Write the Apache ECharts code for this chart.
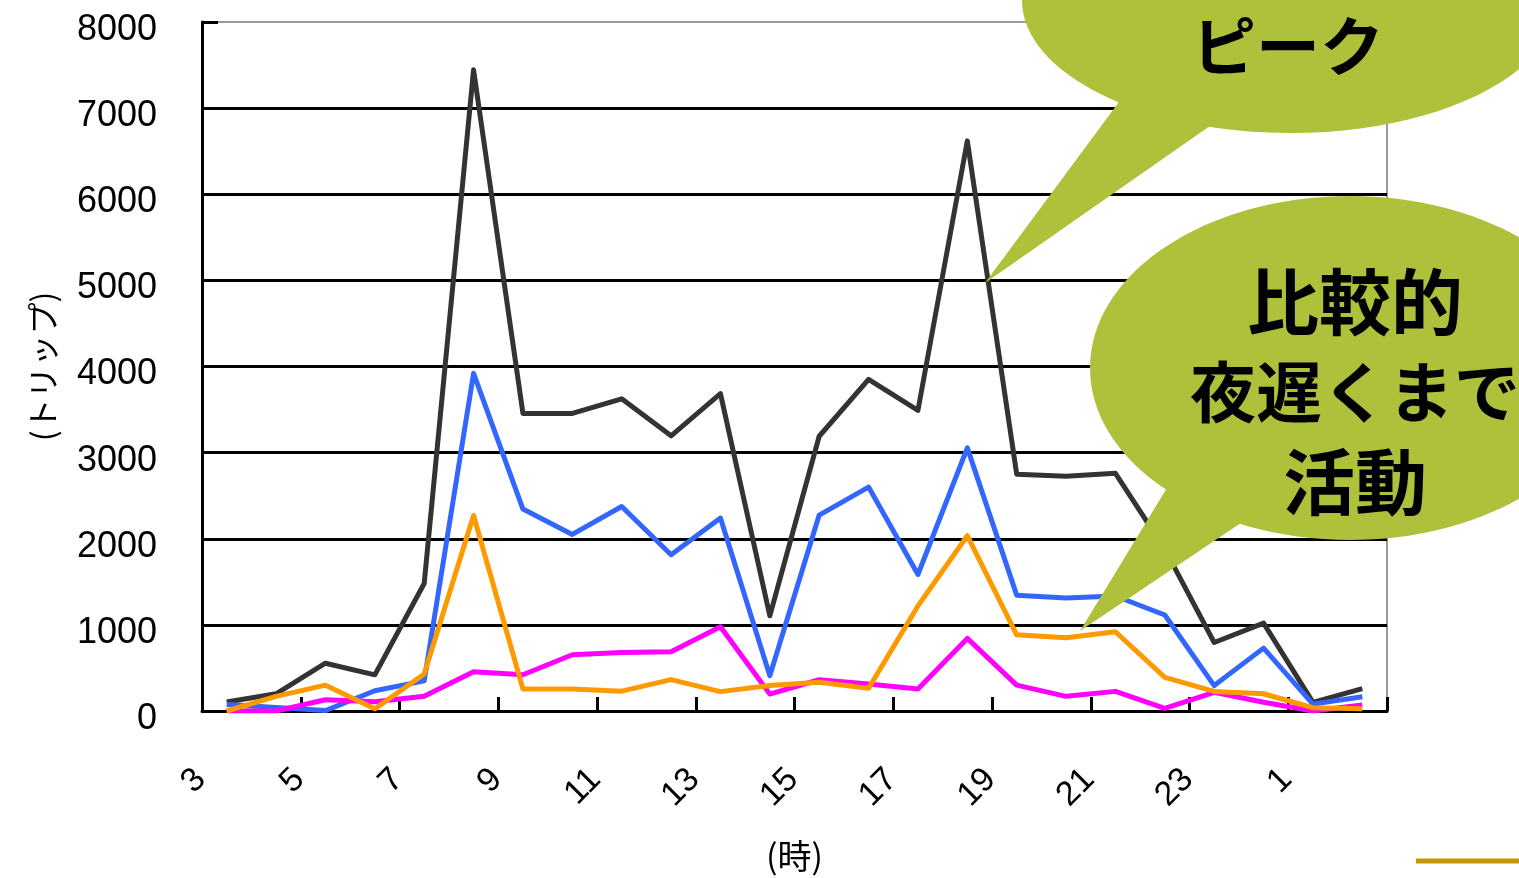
<!DOCTYPE html>
<html>
<head>
<meta charset="utf-8">
<script src="https://cdn.jsdelivr.net/npm/echarts@6/dist/echarts.min.js"></script>
<style>
  html, body { margin: 0; padding: 0; background: #fff; }
  #chart { width: 1519px; height: 878px; }
</style>
</head>
<body>
<div id="chart"></div>
<script>
// 時間帯 (3時〜翌2時)
var hours = ['3','4','5','6','7','8','9','10','11','12','13','14','15','16','17','18','19','20','21','22','23','24','1','2'];
var yTicks = [0, 1000, 2000, 3000, 4000, 5000, 6000, 7000, 8000];

// トリップ数
var tripsBlack = [105, 200, 555, 420, 1480, 7445, 3455, 3455, 3625, 3195, 3685, 1105, 3190, 3850, 3490, 6620, 2750, 2725, 2760, 1880, 795, 1020, 100, 260];
var tripsBlue = [75, 40, 5, 235, 350, 3920, 2345, 2050, 2375, 1815, 2240, 410, 2275, 2600, 1585, 3055, 1345, 1312, 1335, 1115, 295, 730, 80, 165];
var tripsMagenta = [0, 0, 130, 108, 170, 456, 421, 653, 680, 688, 978, 197, 363, 313, 255, 843, 301, 170, 228, 31, 217, 101, 0, 70];
var tripsOrange = [0, 170, 300, 25, 430, 2270, 255, 255, 230, 365, 225, 295, 335, 265, 1220, 2035, 885, 850, 920, 390, 227, 200, 38, 25];

var bubbleColor = '#AFC03B';
var jpFont = '"Noto Sans CJK JP", sans-serif';
var numFont = '"Liberation Sans", Arial, sans-serif';

function lineSeries(name, data, color) {
    return {
        name: name,
        type: 'line',
        data: data,
        symbol: 'none',
        lineStyle: { color: color, width: 5, join: 'round' },
        itemStyle: { color: color },
        animation: false
    };
}

var chart = echarts.init(document.getElementById('chart'));

var option = {
    backgroundColor: '#fff',
    animation: false,
    grid: {
        left: 202, top: 22, right: 132, bottom: 166,
        show: true, borderColor: '#999', borderWidth: 2, backgroundColor: 'transparent'
    },
    xAxis: {
        type: 'category',
        data: hours,
        boundaryGap: true,
        name: '(時)',
        nameLocation: 'middle',
        nameGap: 128,
        nameTextStyle: { fontFamily: jpFont, fontSize: 34, color: '#000' },
        axisLine: { lineStyle: { color: '#000', width: 3 } },
        axisTick: { show: true, inside: true, length: 14, lineStyle: { color: '#000', width: 3 } },
        axisLabel: {
            interval: 1,
            rotate: 45,
            margin: 37,
            padding: [0, 37, 0, 0],
            fontFamily: numFont,
            fontSize: 34,
            color: '#000'
        },
        splitLine: { show: false }
    },
    yAxis: {
        type: 'value',
        min: yTicks[0],
        max: yTicks[yTicks.length - 1],
        interval: 1000,
        name: '(トリップ)',
        nameLocation: 'middle',
        nameRotate: 90,
        nameGap: 143,
        nameTextStyle: { fontFamily: jpFont, fontSize: 32, color: '#000' },
        axisLine: { show: true, lineStyle: { color: '#000', width: 3 } },
        axisTick: { show: true, inside: true, length: 16, lineStyle: { color: '#000', width: 3 } },
        axisLabel: {
            margin: 45,
            formatter: function (v) { return '{n|' + v + '}'; },
            rich: {
                n: { fontFamily: numFont, fontSize: 36, color: '#000', padding: [16, 0, 0, 0] }
            }
        },
        splitLine: { show: true, showMaxLine: false, lineStyle: { color: '#000', width: 3 } }
    },
    series: [
        lineSeries('black', tripsBlack, '#333333'),
        lineSeries('blue', tripsBlue, '#3366FF'),
        lineSeries('magenta', tripsMagenta, '#FF00FF'),
        lineSeries('orange', tripsOrange, '#FF9900')
    ],
    graphic: [
        // 吹き出し「ピーク」
        { type: 'ellipse', z: 100, shape: { cx: 1290, cy: 0, rx: 268, ry: 133 }, style: { fill: bubbleColor } },
        { type: 'polygon', z: 100, shape: { points: [[1130, 87], [985, 283], [1240, 105]] }, style: { fill: bubbleColor } },
        { type: 'text', z: 101, style: {
            text: 'ピーク', x: 1288, y: 46, align: 'center', verticalAlign: 'middle',
            fontFamily: jpFont, fontSize: 64, fontWeight: 'bold', fill: '#000'
        } },
        // 吹き出し「比較的夜遅くまで活動」
        { type: 'ellipse', z: 100, shape: { cx: 1350, cy: 368, rx: 260, ry: 172 }, style: { fill: bubbleColor } },
        { type: 'polygon', z: 100, shape: { points: [[1190, 450], [1080, 631], [1290, 490]] }, style: { fill: bubbleColor } },
        { type: 'text', z: 101, style: {
            text: '{a|比較的}\n{b|夜遅くまで}\n{a|活動}', x: 1355, y: 392, align: 'center', verticalAlign: 'middle',
            fill: '#000',
            rich: {
                a: { fontFamily: jpFont, fontSize: 72, fontWeight: 'bold', lineHeight: 90, fill: '#000' },
                b: { fontFamily: jpFont, fontSize: 66, fontWeight: 'bold', lineHeight: 90, fill: '#000' }
            }
        } },
        // 右下の飾り線
        { type: 'line', z: 100, shape: { x1: 1416, y1: 861, x2: 1519, y2: 861 }, style: { stroke: '#C89600', lineWidth: 5 } }
    ]
};

chart.setOption(option);
</script>
</body>
</html>
